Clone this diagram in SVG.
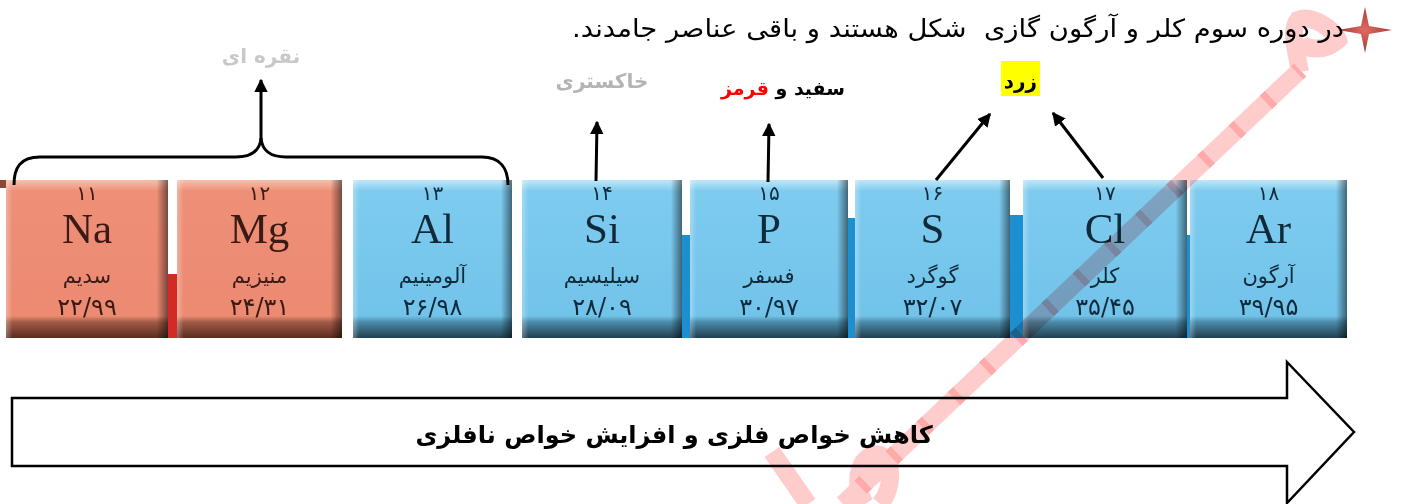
<svg xmlns="http://www.w3.org/2000/svg" width="1404" height="504" viewBox="0 0 1404 504">
<style>
.fa{font-family:"DejaVu Sans",sans-serif;direction:rtl}
.sym{font-family:"Liberation Serif",serif;font-size:43px;text-anchor:middle}
.num{font-family:"DejaVu Sans",sans-serif;font-size:20px;text-anchor:middle}
.mass{font-family:"DejaVu Sans",sans-serif;font-size:24px;text-anchor:middle;letter-spacing:1px}
.nm{font-family:"DejaVu Sans",sans-serif;font-size:21px;text-anchor:middle;direction:rtl}
.blueT{fill:#0f2a3a}
.redT{fill:#3a1a14}
.lbl{font-family:"DejaVu Sans",sans-serif;font-weight:bold;text-anchor:middle;direction:rtl}
.conn{stroke:#000;stroke-width:3;fill:none}
.wm{stroke:#ffcccc;fill:none;stroke-width:18;stroke-linecap:butt}
</style>
<defs>
<linearGradient id="blueV" x1="0" y1="0" x2="0" y2="1">
<stop offset="0" stop-color="#bfe7f8"/><stop offset="0.07" stop-color="#7ecbef"/><stop offset="0.86" stop-color="#72c3ea"/><stop offset="0.9" stop-color="#4a8aa8"/><stop offset="1" stop-color="#223f50"/>
</linearGradient>
<linearGradient id="salV" x1="0" y1="0" x2="0" y2="1">
<stop offset="0" stop-color="#f6c0ad"/><stop offset="0.07" stop-color="#ee8f77"/><stop offset="0.86" stop-color="#ec8a72"/><stop offset="0.9" stop-color="#a05a45"/><stop offset="1" stop-color="#5a2c20"/>
</linearGradient>
<linearGradient id="edgeH" x1="0" y1="0" x2="1" y2="0">
<stop offset="0" stop-color="#fff" stop-opacity="0.3"/><stop offset="0.04" stop-color="#fff" stop-opacity="0"/><stop offset="0.93" stop-color="#000" stop-opacity="0"/><stop offset="1" stop-color="#000" stop-opacity="0.5"/>
</linearGradient>
<radialGradient id="starG" cx="0.5" cy="0.5" r="0.5">
<stop offset="0" stop-color="#e06a63"/><stop offset="1" stop-color="#a83a35"/>
</radialGradient>
<marker id="ah" viewBox="0 0 10 10" refX="9" refY="5" markerWidth="4.5" markerHeight="4.5" orient="auto" markerUnits="strokeWidth">
<path d="M0,0 L10,5 L0,10 Z" fill="#000"/>
</marker>
</defs>
<rect width="1404" height="504" fill="#fff"/>

<g id="gaps">
<rect x="168" y="274" width="9" height="64" fill="#d42a26"/>
<rect x="682" y="235" width="8" height="103" fill="#1b8fd0"/>
<rect x="848" y="218" width="7" height="120" fill="#1b8fd0"/>
<rect x="1010" y="215" width="13" height="123" fill="#1b8fd0"/>
<rect x="1187" y="235" width="3" height="103" fill="#1b8fd0"/>
<rect x="0" y="180" width="6" height="8" fill="#8a4a3a"/>
</g>

<g id="tile-na">
<rect x="6" y="180" width="162" height="158" fill="url(#salV)"/><rect x="6" y="180" width="162" height="158" fill="url(#edgeH)"/>
<text x="87" y="200" class="num redT">۱۱</text><text x="87" y="243" class="sym redT">Na</text>
<text x="87" y="283" class="nm redT">سدیم</text><text x="87" y="315" class="mass redT">۲۲/۹۹</text>
</g>
<g id="tile-mg">
<rect x="177" y="180" width="165" height="158" fill="url(#salV)"/><rect x="177" y="180" width="165" height="158" fill="url(#edgeH)"/>
<text x="259.5" y="200" class="num redT">۱۲</text><text x="259.5" y="243" class="sym redT">Mg</text>
<text x="259.5" y="283" class="nm redT">منیزیم</text><text x="259.5" y="315" class="mass redT">۲۴/۳۱</text>
</g>
<g id="tile-al">
<rect x="353" y="180" width="159" height="158" fill="url(#blueV)"/><rect x="353" y="180" width="159" height="158" fill="url(#edgeH)"/>
<text x="432.5" y="200" class="num blueT">۱۳</text><text x="432.5" y="243" class="sym blueT">Al</text>
<text x="432.5" y="283" class="nm blueT">آلومینیم</text><text x="432.5" y="315" class="mass blueT">۲۶/۹۸</text>
</g>
<g id="tile-si">
<rect x="522" y="180" width="160" height="158" fill="url(#blueV)"/><rect x="522" y="180" width="160" height="158" fill="url(#edgeH)"/>
<text x="602" y="200" class="num blueT">۱۴</text><text x="602" y="243" class="sym blueT">Si</text>
<text x="602" y="283" class="nm blueT">سیلیسیم</text><text x="602" y="315" class="mass blueT">۲۸/۰۹</text>
</g>
<g id="tile-p">
<rect x="690" y="180" width="158" height="158" fill="url(#blueV)"/><rect x="690" y="180" width="158" height="158" fill="url(#edgeH)"/>
<text x="769" y="200" class="num blueT">۱۵</text><text x="769" y="243" class="sym blueT">P</text>
<text x="769" y="283" class="nm blueT">فسفر</text><text x="769" y="315" class="mass blueT">۳۰/۹۷</text>
</g>
<g id="tile-s">
<rect x="855" y="180" width="155" height="158" fill="url(#blueV)"/><rect x="855" y="180" width="155" height="158" fill="url(#edgeH)"/>
<text x="932.5" y="200" class="num blueT">۱۶</text><text x="932.5" y="243" class="sym blueT">S</text>
<text x="932.5" y="283" class="nm blueT">گوگرد</text><text x="932.5" y="315" class="mass blueT">۳۲/۰۷</text>
</g>
<g id="tile-cl">
<rect x="1023" y="180" width="164" height="158" fill="url(#blueV)"/><rect x="1023" y="180" width="164" height="158" fill="url(#edgeH)"/>
<text x="1105" y="200" class="num blueT">۱۷</text><text x="1105" y="243" class="sym blueT">Cl</text>
<text x="1105" y="283" class="nm blueT">کلر</text><text x="1105" y="315" class="mass blueT">۳۵/۴۵</text>
</g>
<g id="tile-ar">
<rect x="1190" y="180" width="157" height="158" fill="url(#blueV)"/><rect x="1190" y="180" width="157" height="158" fill="url(#edgeH)"/>
<text x="1268.5" y="200" class="num blueT">۱۸</text><text x="1268.5" y="243" class="sym blueT">Ar</text>
<text x="1268.5" y="283" class="nm blueT">آرگون</text><text x="1268.5" y="315" class="mass blueT">۳۹/۹۵</text>
</g>

<g id="title">
<path d="M1365,7 L1369,26 L1392,30 L1369,34 L1365,53 L1361,34 L1338,30 L1361,26 Z" fill="url(#starG)"/>
<text x="958" y="37" class="fa" font-size="25" text-anchor="middle" fill="#000" textLength="772" lengthAdjust="spacingAndGlyphs" xml:space="preserve">در دوره سوم کلر و آرگون گازی  شکل هستند و باقی عناصر جامدند.</text>
</g>

<g id="label-silver"><text x="261" y="63" class="lbl" style="font-size:20px" fill="#c8c8c8">نقره ای</text></g>
<g id="label-gray"><text x="602" y="88" class="lbl" style="font-size:20px" fill="#b4b4b4">خاکستری</text></g>
<g id="label-white-red"><text x="783" y="95" class="lbl" style="font-size:19px" fill="#000">سفید و <tspan fill="#ff0000">قرمز</tspan></text></g>
<g id="label-yellow"><rect x="1001" y="61" width="39" height="35" fill="#ffff00"/><text x="1020.5" y="88" class="lbl" style="font-size:20px" fill="#000">زرد</text></g>

<g id="connectors">
<path class="conn" d="M14,185 C14,168 20,157 40,157 L236,157 C252,157 260,150 261,138 C262,150 270,157 286,157 L482,157 C500,157 508,168 508,185"/>
<path class="conn" d="M261,140 L261,80" marker-end="url(#ah)"/>
<path class="conn" d="M596,181 L597,122" marker-end="url(#ah)"/>
<path class="conn" d="M768,182 L769,124" marker-end="url(#ah)"/>
<path class="conn" d="M936,180 L990,114" marker-end="url(#ah)"/>
<path class="conn" d="M1103,178 L1053,113" marker-end="url(#ah)"/>
</g>

<g id="trend-arrow">
<path d="M12,398 H1287 V362 L1354,432 L1287,503 V466 H12 Z" fill="#fff" stroke="#000" stroke-width="2.5" stroke-linejoin="miter"/>
<text x="674" y="443" class="lbl" style="font-size:24px" fill="#000">کاهش خواص فلزی و افزایش خواص نافلزی</text>
</g>

<g id="watermark" style="mix-blend-mode:multiply">
<path class="wm" d="M1300,72 C1296,50 1290,30 1298,20 C1312,14 1335,30 1338,40 C1326,52 1306,50 1300,42"/>
<path class="wm" d="M1300,70 L843,504"/>
<path class="wm" d="M772,452 L808,504"/>
<path class="wm" d="M865,504 C850,480 862,450 880,455 C895,462 892,490 880,504"/>
<path d="M1300,70 L843,504" fill="none" stroke="#ffaaaa" stroke-width="18" stroke-dasharray="7 36" stroke-dashoffset="-40"/>
</g>
</svg>
